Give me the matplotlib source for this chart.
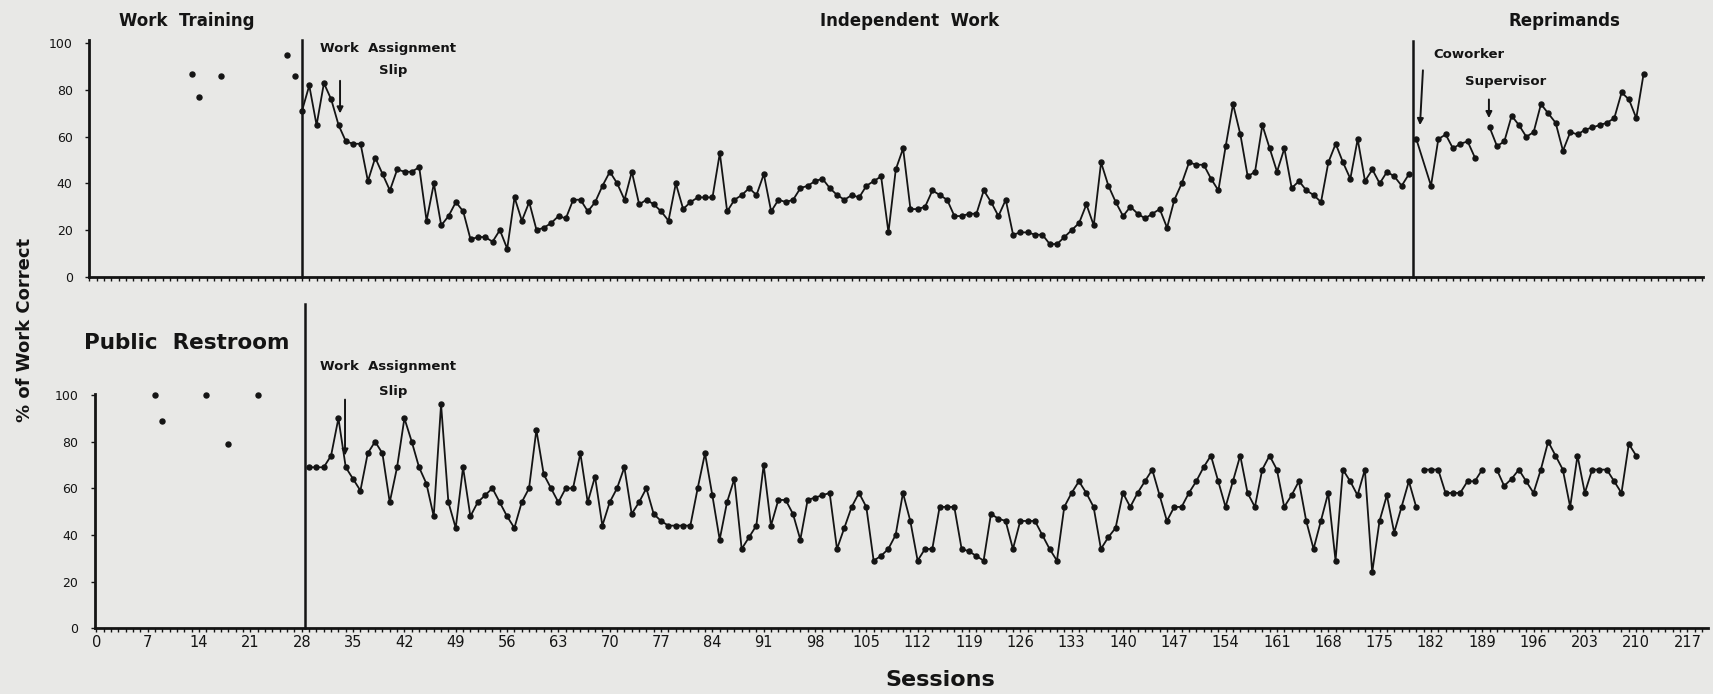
import numpy as np
import matplotlib.pyplot as plt
from matplotlib.ticker import MultipleLocator

# ---- top panel (Work Training / Independent Work / Reprimands) ----
top_base_sessions = [13, 14, 17, 26, 27]
top_base_pct = [87, 77, 86, 95, 86]

# sessions 28 - 179
top_work_pct = [
    71, 82, 65, 83, 76, 65, 58, 57, 57, 41,
    51, 44, 37, 46, 45, 45, 47, 24, 40, 22,
    26, 32, 28, 16, 17, 17, 15, 20, 12, 34,
    24, 32, 20, 21, 23, 26, 25, 33, 33, 28,
    32, 39, 45, 40, 33, 45, 31, 33, 31, 28,
    24, 40, 29, 32, 34, 34, 34, 53, 28, 33,
    35, 38, 35, 44, 28, 33, 32, 33, 38, 39,
    41, 42, 38, 35, 33, 35, 34, 39, 41, 43,
    19, 46, 55, 29, 29, 30, 37, 35, 33, 26,
    26, 27, 27, 37, 32, 26, 33, 18, 19, 19,
    18, 18, 14, 14, 17, 20, 23, 31, 22, 49,
    39, 32, 26, 30, 27, 25, 27, 29, 21, 33,
    40, 49, 48, 48, 42, 37, 56, 74, 61, 43,
    45, 65, 55, 45, 55, 38, 41, 37, 35, 32,
    49, 57, 49, 42, 59, 41, 46, 40, 45, 43,
    39, 44,
]
top_cowork_sessions = [180, 182, 183, 184, 185, 186, 187, 188]
top_cowork_pct = [59, 39, 59, 61, 55, 57, 58, 51]
# sessions 190 - 211
top_super_pct = [64, 56, 58, 69, 65, 60, 62, 74, 70, 66, 54,
                 62, 61, 63, 64, 65, 66, 68, 79, 76, 68, 87]

# ---- bottom panel (Public Restroom) ----
bot_base_sessions = [8, 9, 15, 18, 22]
bot_base_pct = [100, 89, 100, 79, 100]

# sessions 29 - 180
bot_work_pct = [
    69, 69, 69, 74, 90, 69, 64, 59, 75, 80,
    75, 54, 69, 90, 80, 69, 62, 48, 96, 54,
    43, 69, 48, 54, 57, 60, 54, 48, 43, 54,
    60, 85, 66, 60, 54, 60, 60, 75, 54, 65,
    44, 54, 60, 69, 49, 54, 60, 49, 46, 44,
    44, 44, 44, 60, 75, 57, 38, 54, 64, 34,
    39, 44, 70, 44, 55, 55, 49, 38, 55, 56,
    57, 58, 34, 43, 52, 58, 52, 29, 31, 34,
    40, 58, 46, 29, 34, 34, 52, 52, 52, 34,
    33, 31, 29, 49, 47, 46, 34, 46, 46, 46,
    40, 34, 29, 52, 58, 63, 58, 52, 34, 39,
    43, 58, 52, 58, 63, 68, 57, 46, 52, 52,
    58, 63, 69, 74, 63, 52, 63, 74, 58, 52,
    68, 74, 68, 52, 57, 63, 46, 34, 46, 58,
    29, 68, 63, 57, 68, 24, 46, 57, 41, 52,
    63, 52,
]
# sessions 181 - 189
bot_rep1_pct = [68, 68, 68, 58, 58, 58, 63, 63, 68]
# sessions 191 - 210
bot_rep2_pct = [68, 61, 64, 68, 63, 58, 68, 80, 74, 68,
                52, 74, 58, 68, 68, 68, 63, 58, 79, 74]

y_ticks = [0, 20, 40, 60, 80, 100]
x_ticks = list(range(0, 218, 7))

bg = "#e8e8e6"
ink = "#141414"
W, H = 1713, 694

fig = plt.figure(figsize=(W / 100, H / 100), dpi=100, facecolor=bg)
ax1 = fig.add_axes([89.3 / W, 1 - 276.7 / H, (1703 - 89.3) / W, (276.7 - 40) / H])
ax2 = fig.add_axes([95 / W, 1 - 628.3 / H, (1708 - 95) / W, (628.3 - 301.6) / H])

line_kw = dict(color=ink, lw=1.3, marker="o", ms=3.6)


def style(ax, ylim, xlim, labels):
    ax.set_facecolor(bg)
    ax.set_xlim(*xlim)
    ax.set_ylim(*ylim)
    for s in ["top", "right"]:
        ax.spines[s].set_visible(False)
    for s in ["left", "bottom"]:
        ax.spines[s].set_linewidth(2)
        ax.spines[s].set_color(ink)
    ax.spines["left"].set_bounds(0, min(ylim[1], 101.5))
    ax.set_yticks(y_ticks)
    ax.xaxis.set_minor_locator(MultipleLocator(1))
    ax.set_xticks(x_ticks)
    ax.tick_params(axis="y", length=3, width=1, pad=9, labelsize=9, colors=ink)
    ax.tick_params(axis="x", which="both", direction="out", length=3, width=1,
                   colors=ink, pad=2, labelsize=10.5)
    if not labels:
        ax.tick_params(axis="x", labelbottom=False)


style(ax1, (0, 101.5), (-1.0, 219.1), False)
style(ax2, (0, 140), (-0.2, 219.8), True)
ax2.spines["left"].set_bounds(0, 100.5)

# top panel data
ax1.plot(top_base_sessions, top_base_pct, ls="none", marker="o", ms=3.6, color=ink)
ax1.plot(np.arange(28, 28 + len(top_work_pct)), top_work_pct, **line_kw)
ax1.plot(top_cowork_sessions, top_cowork_pct, **line_kw)
ax1.plot(np.arange(190, 190 + len(top_super_pct)), top_super_pct, **line_kw)
ax1.plot([28, 28], [0, 101.5], color=ink, lw=1.8, clip_on=False)
ax1.plot([179.5, 179.5], [0, 101], color=ink, lw=1.8, clip_on=False)

# bottom panel data
ax2.plot(bot_base_sessions, bot_base_pct, ls="none", marker="o", ms=3.6, color=ink)
ax2.plot(np.arange(29, 29 + len(bot_work_pct)), bot_work_pct, **line_kw)
ax2.plot(np.arange(181, 181 + len(bot_rep1_pct)), bot_rep1_pct, **line_kw)
ax2.plot(np.arange(191, 191 + len(bot_rep2_pct)), bot_rep2_pct, **line_kw)
ax2.plot([28.5, 28.5], [0, 139], color=ink, lw=1.8, clip_on=False)

# annotations
arrow = dict(arrowstyle="-|>", color=ink, lw=1.4, mutation_scale=9,
             shrinkA=0, shrinkB=0)
bold = dict(fontweight="bold", color=ink, ha="center", va="center")

ax1.text(12.3, 109.7, "Work  Training", fontsize=12, clip_on=False, **bold)
ax1.text(110.9, 109.7, "Independent  Work", fontsize=12, clip_on=False, **bold)
ax1.text(200.2, 109.7, "Reprimands", fontsize=12, clip_on=False, **bold)
ax1.text(39.8, 97.9, "Work  Assignment", fontsize=9.5, **bold)
ax1.text(40.5, 88.6, "Slip", fontsize=9.5, **bold)
ax1.annotate("", xy=(33.2, 70), xytext=(33.2, 84), arrowprops=arrow)
ax1.text(187.2, 95.4, "Coworker", fontsize=9.5, **bold)
ax1.annotate("", xy=(180.5, 65), xytext=(180.9, 88.5), arrowprops=arrow)
ax1.text(192.2, 83.6, "Supervisor", fontsize=9.5, **bold)
ax1.annotate("", xy=(189.9, 68), xytext=(189.9, 76), arrowprops=arrow)

ax2.text(12.3, 122.1, "Public  Restroom", fontsize=15.5, **bold)
ax2.text(39.8, 112, "Work  Assignment", fontsize=9.5, **bold)
ax2.text(40.5, 101.5, "Slip", fontsize=9.5, **bold)
ax2.annotate("", xy=(33.9, 74), xytext=(33.9, 98), arrowprops=arrow)

fig.text(940.7 / W, 1 - 680 / H, "Sessions", fontsize=16, **bold)
fig.text(25 / W, 1 - 330 / H, "% of Work Correct", fontsize=13, rotation=90, **bold)

fig.savefig("out.png", dpi=100, facecolor=bg)
